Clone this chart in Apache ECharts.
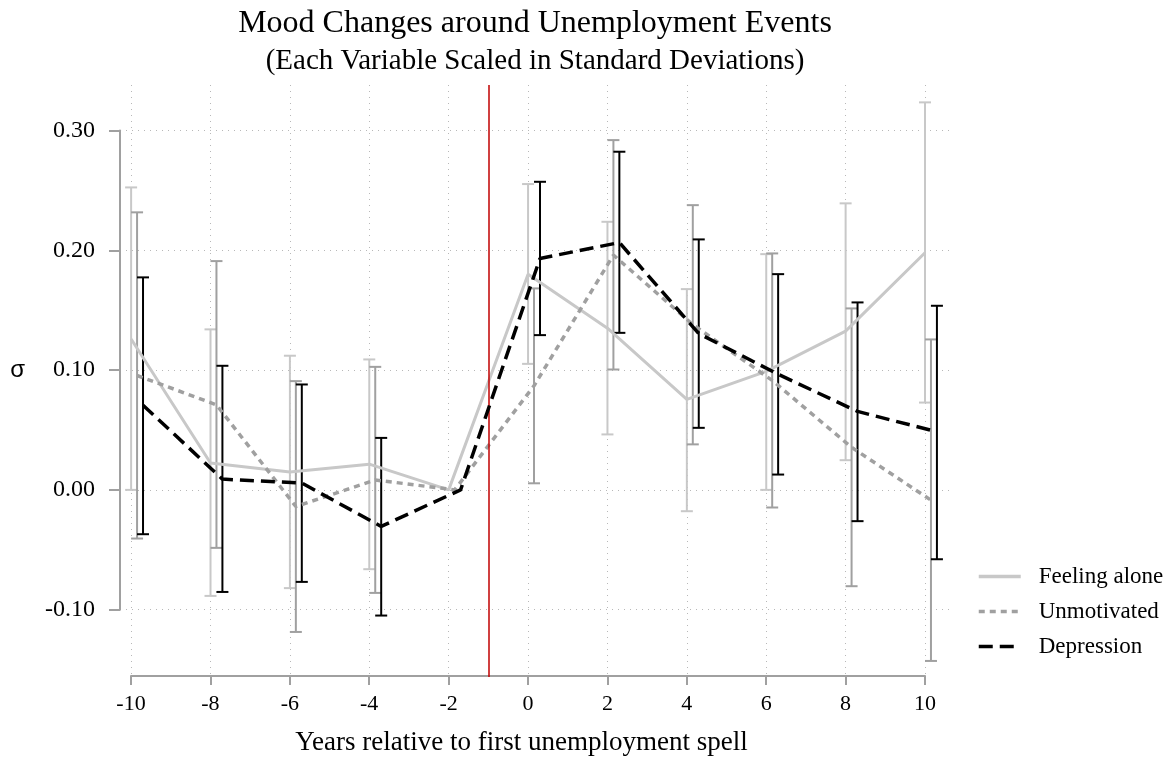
<!DOCTYPE html>
<html>
<head>
<meta charset="utf-8">
<script src="https://cdn.jsdelivr.net/npm/echarts@6/dist/echarts.min.js"></script>
<style>html,body{margin:0;padding:0;background:#fff}#chart{width:1167px;height:761px}</style>
</head>
<body>
<div id="chart"></div>
<script>
// ---- data ----
const years = [-10, -8, -6, -4, -2, 0, 2, 4, 6, 8, 10];
const seriesNames = ['Feeling alone', 'Unmotivated', 'Depression'];
const xOffsets = [0, 0.15, 0.3];
const eventYear = -1;

const feelingAlone   = [0.126, 0.0225, 0.015, 0.0215, 0, 0.180, 0.135, 0.0755, 0.099, 0.1325, 0.198];
const feelingAloneLo = [0.000, -0.0885, -0.082, -0.0662, null, 0.1052, 0.0463, -0.0178, 0.000, 0.0248, 0.0729];
const feelingAloneHi = [0.2525, 0.134, 0.112, 0.1089, null, 0.2553, 0.2238, 0.1676, 0.1968, 0.2392, 0.3235];

const unmotivated   = [0.0955, 0.071, -0.0139, 0.0083, 0, 0.0869, 0.196, 0.138, 0.0914, 0.0355, -0.0086];
const unmotivatedLo = [-0.0406, -0.0484, -0.1186, -0.086, null, 0.0055, 0.1005, 0.038, -0.0147, -0.0804, -0.1428];
const unmotivatedHi = [0.2317, 0.191, 0.0908, 0.1027, null, 0.1682, 0.292, 0.2377, 0.1974, 0.1515, 0.1256];

const depression   = [0.0707, 0.009, 0.0057, -0.0305, 0, 0.1932, 0.2065, 0.1305, 0.0965, 0.0655, 0.0485];
const depressionLo = [-0.037, -0.0852, -0.0768, -0.1049, null, 0.1292, 0.1311, 0.0518, 0.0128, -0.0261, -0.0579];
const depressionHi = [0.1774, 0.1036, 0.088, 0.0434, null, 0.2572, 0.2823, 0.2091, 0.1801, 0.1565, 0.1537];

const xTickMin = -10, xTickMax = 10, xTickStep = 2;
const yTickMin = -0.1, yTickMax = 0.3, yTickStep = 0.1;

// ---- styles ----
const serif = 'Liberation Serif';
const colors = ['#c8c8c8', '#a0a0a0', '#000000'];
const dashes = ['solid', [6, 5], [14, 7]];
const widths = [3, 3.5, 3.5];
const axisGray = '#a0a0a0';
const gridDots = { color: '#b8b8b8', width: 1, type: [1, 5] };

const means = [feelingAlone, unmotivated, depression];
const los = [feelingAloneLo, unmotivatedLo, depressionLo];
const his = [feelingAloneHi, unmotivatedHi, depressionHi];

function errorBarSeries(i) {
  const data = [];
  years.forEach((yr, k) => {
    if (los[i][k] !== null) data.push([yr + xOffsets[i], los[i][k], his[i][k]]);
  });
  return {
    type: 'custom', xAxisIndex: 0, yAxisIndex: 0, silent: true, z: 2,
    data: data,
    renderItem: function (params, api) {
      const x = api.value(0);
      const top = api.coord([x, api.value(2)]);
      const bot = api.coord([x, api.value(1)]);
      const hw = 6;
      const st = { stroke: colors[i], lineWidth: 2 };
      return {
        type: 'group',
        children: [
          { type: 'line', shape: { x1: top[0], y1: top[1], x2: bot[0], y2: bot[1] }, style: st },
          { type: 'line', shape: { x1: top[0] - hw, y1: top[1], x2: top[0] + hw, y2: top[1] }, style: st },
          { type: 'line', shape: { x1: bot[0] - hw, y1: bot[1], x2: bot[0] + hw, y2: bot[1] }, style: st }
        ]
      };
    }
  };
}

function lineSeries(i) {
  const s = {
    name: seriesNames[i], type: 'line', xAxisIndex: 0, yAxisIndex: 0,
    data: years.map((yr, k) => [yr + xOffsets[i], means[i][k]]),
    symbol: 'none', showSymbol: false, silent: true, z: 3 + i,
    lineStyle: { color: colors[i], width: widths[i], type: dashes[i] },
    itemStyle: { color: colors[i] }
  };
  if (i === 0) {
    s.markLine = {
      silent: true, symbol: ['none', 'none'], label: { show: false },
      lineStyle: { color: '#c00000', width: 1.5, type: 'solid' },
      data: [{ xAxis: eventYear }]
    };
  }
  return s;
}

const chart = echarts.init(document.getElementById('chart'), null, { renderer: 'canvas' });
chart.setOption({
  animation: false,
  backgroundColor: '#ffffff',
  title: [
    { text: 'Mood Changes around Unemployment Events', left: 530, top: 3, textAlign: 'center',
      textStyle: { fontFamily: serif, fontSize: 32, fontWeight: 'normal', color: '#000' } },
    { text: '(Each Variable Scaled in Standard Deviations)', left: 530, top: 42, textAlign: 'center',
      textStyle: { fontFamily: serif, fontSize: 29, fontWeight: 'normal', color: '#000' } }
  ],
  legend: {
    orient: 'vertical', left: 972, top: 560,
    itemWidth: 42, itemHeight: 14, itemGap: 12,
    data: seriesNames,
    itemStyle: { opacity: 0 },
    lineStyle: { width: 3.5 },
    textStyle: { fontFamily: serif, fontSize: 23, color: '#000', padding: [0, 0, 0, 13] }
  },
  grid: [
    { left: 120, right: 214, top: 85, bottom: 84 },      // data
    { left: 131, right: 242, top: 85, bottom: 82 },      // x axis
    { left: 120, right: 214, top: 130.5, bottom: 151.3 } // y axis
  ],
  xAxis: [
    { gridIndex: 0, type: 'value', min: -10.28, max: 10.705, show: false },
    { gridIndex: 1, type: 'value', min: xTickMin, max: xTickMax, interval: xTickStep, position: 'bottom', offset: 0,
      axisLine: { show: true, lineStyle: { color: axisGray, width: 2 } },
      axisTick: { show: true, length: 9, lineStyle: { color: axisGray, width: 2 } },
      axisLabel: { fontFamily: serif, fontSize: 22, color: '#000', margin: 17 },
      splitLine: { show: true, lineStyle: gridDots },
      name: 'Years relative to first unemployment spell', nameLocation: 'middle', nameGap: 53,
      nameTextStyle: { fontFamily: serif, fontSize: 27, color: '#000', padding: [0, 13, 0, 0] } },
    { gridIndex: 2, type: 'value', min: 0, max: 1, show: false }
  ],
  yAxis: [
    { gridIndex: 0, type: 'value', min: -0.1562, max: 0.338, show: false },
    { gridIndex: 1, type: 'value', min: 0, max: 1, show: false },
    { gridIndex: 2, type: 'value', min: yTickMin, max: yTickMax, interval: yTickStep, position: 'left', offset: 7,
      axisLine: { show: true, lineStyle: { color: axisGray, width: 2 } },
      axisTick: { show: true, length: 11, lineStyle: { color: axisGray, width: 2 } },
      axisLabel: { fontFamily: serif, fontSize: 24, color: '#000', margin: 18,
        formatter: v => v.toFixed(2) },
      splitLine: { show: true, lineStyle: gridDots },
      name: 'σ', nameLocation: 'middle', nameGap: 88, nameRotate: 0,
      nameTextStyle: { fontFamily: 'Liberation Sans', fontSize: 24, color: '#000' } }
  ],
  series: [errorBarSeries(0), errorBarSeries(1), errorBarSeries(2), lineSeries(0), lineSeries(1), lineSeries(2)]
});
</script>
</body>
</html>
